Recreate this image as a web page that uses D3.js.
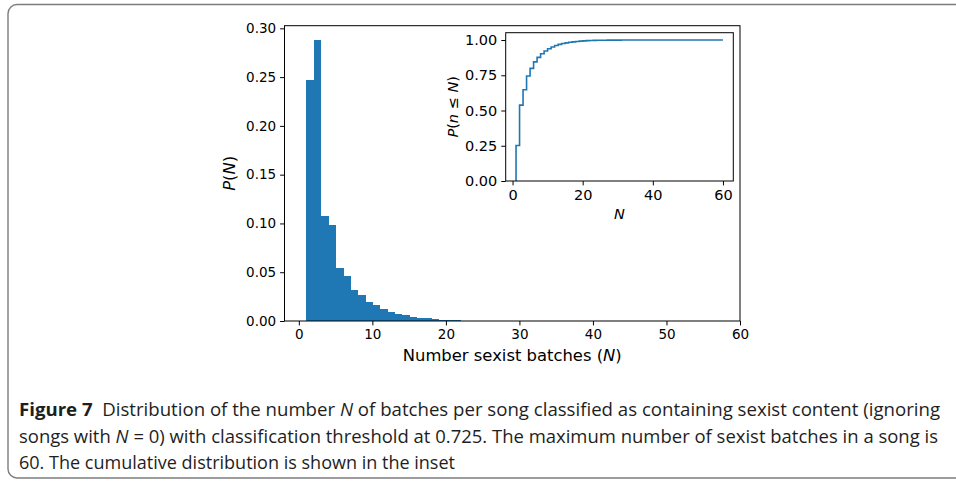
<!DOCTYPE html>
<html>
<head>
<meta charset="utf-8">
<script src="https://cdn.jsdelivr.net/npm/d3@7"></script>
<style>
  body { margin: 0; background: #fff; }
  svg { display: block; }
  .tick text { font-family: "DejaVu Sans", sans-serif; }
</style>
</head>
<body>
<div id="chart"></div>
<script>
// histogram: left edges of the bins (width 1) and the density in each bin
var binEdges = [1, 2, 3, 4, 5, 6, 7, 8, 9, 10, 11, 12, 13, 14, 15, 16, 17, 18, 19, 20,
  21, 22, 23, 24, 25, 26, 27, 28, 29, 30, 31, 32, 33, 34, 35, 36, 37, 38, 39, 40,
  41, 42, 43, 44, 45, 46, 47, 48, 49, 50, 51, 52, 53, 54, 55, 56, 57, 58, 59, 60];
var density = [0.247, 0.288, 0.108, 0.098, 0.054, 0.046, 0.032, 0.027, 0.019, 0.016,
  0.012, 0.0095, 0.0075, 0.0065, 0.0045, 0.0035, 0.003, 0.0022, 0.0015, 0.0013,
  0.0012, 0.0004, 0.0003, 0.0003, 0.0002, 0.0002, 0.0002, 0.0001, 0.0001, 0.0001,
  0.0001, 0.0001, 0.0001, 0.0001, 0.0001, 0, 0.0001, 0, 0, 0.0001,
  0, 0, 0, 0, 0, 0, 0, 0, 0, 0,
  0, 0, 0, 0, 0, 0, 0, 0, 0.0001];

// inset: cumulative distribution P(n <= N)
var cdfN = [1, 1, 2, 3, 4, 5, 6, 7, 8, 9, 10, 11, 12, 13, 14, 15, 16, 17, 18, 19, 20,
  21, 22, 23, 24, 25, 26, 27, 28, 29, 30, 31, 32, 33, 34, 35, 36, 37, 38, 39, 40,
  41, 42, 43, 44, 45, 46, 47, 48, 49, 50, 51, 52, 53, 54, 55, 56, 57, 58, 59, 60];
var cdfP = [0, 0.252, 0.538, 0.647, 0.745, 0.799, 0.845, 0.877, 0.903, 0.922, 0.938,
  0.951, 0.961, 0.969, 0.975, 0.980, 0.984, 0.987, 0.990, 0.992, 0.994,
  0.9955, 0.9965, 0.9973, 0.998, 0.9985, 0.9988, 0.9991, 0.9993, 0.9995, 0.9996,
  0.9997, 0.9997, 0.9998, 0.9998, 0.9998, 0.9999, 0.9999, 0.9999, 0.9999, 0.9999,
  0.9999, 0.9999, 0.9999, 0.9999, 0.9999, 1, 1, 1, 1, 1,
  1, 1, 1, 1, 1, 1, 1, 1, 1, 1];

var mainXTicks = [0, 10, 20, 30, 40, 50, 60];
var mainYTicks = [0, 0.05, 0.10, 0.15, 0.20, 0.25, 0.30];
var insetXTicks = [0, 20, 40, 60];
var insetYTicks = [0, 0.25, 0.5, 0.75, 1.0];

var blue = "#1f77b4";
var tickLen = 4.4, tickPad = 4.0;

var svg = d3.select("#chart").append("svg")
    .attr("width", 956)
    .attr("height", 482);

// rounded frame round the figure
svg.append("rect")
    .attr("x", 8).attr("y", 4.5)
    .attr("width", 980).attr("height", 473.5)
    .attr("rx", 9).attr("ry", 9)
    .attr("fill", "none")
    .attr("stroke", "#7d7d7d")
    .attr("stroke-width", 1.4);

// ---------- main histogram ----------
var margin = {top: 25.7, left: 284.5},
    width = 740 - 284.5,
    height = 321 - 25.7;

var x = d3.scaleLinear().domain([-1.95, 60]).range([0, width]);
var y = d3.scaleLinear().domain([0, 0.3027]).range([height, 0]);

var g = svg.append("g")
    .attr("transform", "translate(" + margin.left + "," + margin.top + ")");

g.selectAll(".bar")
    .data(density)
    .enter().append("rect")
    .attr("class", "bar")
    .attr("x", function(d, i) { return x(binEdges[i]); })
    .attr("width", function(d, i) { return x(binEdges[i + 1]) - x(binEdges[i]) + 0.6; })
    .attr("y", function(d) { return y(d); })
    .attr("height", function(d) { return height - y(d); })
    .attr("fill", blue)
    .attr("shape-rendering", "crispEdges");

function styleAxis(sel, fs) {
    sel.select(".domain").remove();
    sel.selectAll(".tick line").attr("stroke", "#000").attr("stroke-width", 1);
    sel.selectAll(".tick text").attr("fill", "#000").style("font-size", fs + "px");
}

g.append("g")
    .attr("transform", "translate(0," + height + ")")
    .call(d3.axisBottom(x).tickValues(mainXTicks).tickSize(tickLen).tickPadding(tickPad)
        .tickFormat(d3.format("d")))
    .call(styleAxis, 13.5);

g.append("g")
    .call(d3.axisLeft(y).tickValues(mainYTicks).tickSize(tickLen).tickPadding(tickPad)
        .tickFormat(d3.format(".2f")))
    .call(styleAxis, 13.5);

g.append("rect")
    .attr("width", width).attr("height", height)
    .attr("fill", "none").attr("stroke", "#000").attr("stroke-width", 1);

// axis labels
var xl = g.append("text")
    .attr("x", width / 2).attr("y", height + 40.5)
    .attr("text-anchor", "middle")
    .style("font-family", "DejaVu Sans").style("font-size", "16.4px");
xl.append("tspan").text("Number sexist batches (");
xl.append("tspan").attr("font-style", "italic").text("N");
xl.append("tspan").text(")");

var yl = g.append("text")
    .attr("transform", "translate(" + (-50) + "," + (height / 2) + ") rotate(-90)")
    .attr("text-anchor", "middle")
    .style("font-family", "DejaVu Sans").style("font-size", "16.4px");
yl.append("tspan").attr("font-style", "italic").text("P");
yl.append("tspan").text("(");
yl.append("tspan").attr("font-style", "italic").text("N");
yl.append("tspan").text(")");

// ---------- inset: cumulative distribution ----------
var inset = {left: 505.7, top: 32.7, width: 733.3 - 505.7, height: 181 - 32.7};

var xi = d3.scaleLinear().domain([-1.95, 62.95]).range([0, inset.width]);
var yi = d3.scaleLinear().domain([0, 1.052]).range([inset.height, 0]);

var gi = svg.append("g")
    .attr("transform", "translate(" + inset.left + "," + inset.top + ")");

gi.append("rect")
    .attr("width", inset.width).attr("height", inset.height)
    .attr("fill", "#fff");

var step = d3.line()
    .x(function(d, i) { return xi(cdfN[i]); })
    .y(function(d) { return yi(d); })
    .curve(d3.curveStepAfter);

gi.append("path")
    .datum(cdfP)
    .attr("d", step)
    .attr("fill", "none")
    .attr("stroke", blue)
    .attr("stroke-width", 1.6);

gi.append("g")
    .attr("transform", "translate(0," + inset.height + ")")
    .call(d3.axisBottom(xi).tickValues(insetXTicks).tickSize(tickLen).tickPadding(tickPad)
        .tickFormat(d3.format("d")))
    .call(styleAxis, 14.5);

gi.append("g")
    .call(d3.axisLeft(yi).tickValues(insetYTicks).tickSize(tickLen).tickPadding(tickPad)
        .tickFormat(d3.format(".2f")))
    .call(styleAxis, 14.5);

gi.append("rect")
    .attr("width", inset.width).attr("height", inset.height)
    .attr("fill", "none").attr("stroke", "#000").attr("stroke-width", 1);

gi.append("text")
    .attr("x", inset.width / 2).attr("y", inset.height + 38)
    .attr("text-anchor", "middle")
    .attr("font-style", "italic")
    .style("font-family", "DejaVu Sans").style("font-size", "14.5px")
    .text("N");

var iyl = gi.append("text")
    .attr("transform", "translate(" + (-48) + "," + (inset.height / 2) + ") rotate(-90)")
    .attr("text-anchor", "middle")
    .style("font-family", "DejaVu Sans").style("font-size", "14.5px");
iyl.append("tspan").attr("font-style", "italic").text("P");
iyl.append("tspan").text("(");
iyl.append("tspan").attr("font-style", "italic").text("n");
iyl.append("tspan").text(" \u2264 ");
iyl.append("tspan").attr("font-style", "italic").text("N");
iyl.append("tspan").text(")");

// ---------- caption ----------
var captionLines = [
  [{t: "Figure 7", b: true}, {t: "  Distribution of the number "}, {t: "N", i: true},
   {t: " of batches per song classified as containing sexist content (ignoring"}],
  [{t: "songs with "}, {t: "N", i: true}, {t: " = 0) with classification threshold at 0.725. The maximum number of sexist batches in a song is"}],
  [{t: "60. The cumulative distribution is shown in the inset"}]
];
var captionWidths = [921, 919, 436];

captionLines.forEach(function(parts, k) {
    var t = svg.append("text")
        .attr("x", 19).attr("y", 416 + k * 26.5)
        .attr("textLength", captionWidths[k])
        .attr("lengthAdjust", "spacingAndGlyphs")
        .style("font-family", "Open Sans, sans-serif")
        .style("font-size", "18.5px")
        .attr("fill", "#1e1e1e")
        .attr("xml:space", "preserve");
    parts.forEach(function(p) {
        var s = t.append("tspan").text(p.t);
        if (p.b) s.attr("font-weight", "bold");
        if (p.i) s.attr("font-style", "italic");
    });
});
</script>
</body>
</html>
